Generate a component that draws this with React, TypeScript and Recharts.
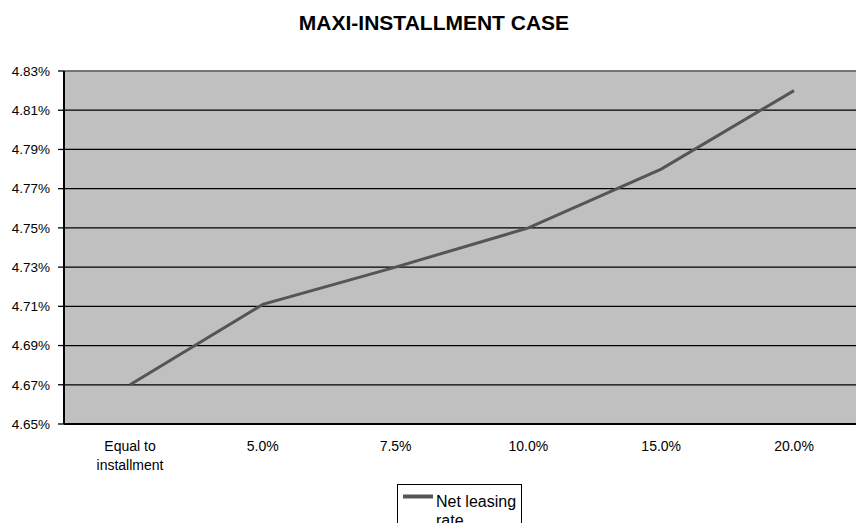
import React from "react";
import {
  LineChart,
  Line,
  XAxis,
  YAxis,
  CartesianGrid,
  ReferenceLine,
  Legend,
  Text,
} from "recharts";

// Down-payment scenarios along the horizontal axis
const categories = ["Equal to installment", "5.0%", "7.5%", "10.0%", "15.0%", "20.0%"];
// Net leasing rate (percent) for each scenario
const netLeasingRate = [4.67, 4.711, 4.73, 4.75, 4.78, 4.82];
// Value-axis ticks (percent)
const yTicks = [4.65, 4.67, 4.69, 4.71, 4.73, 4.75, 4.77, 4.79, 4.81, 4.83];

const title = "MAXI-INSTALLMENT CASE";
const seriesName = "Net leasing rate";

const data = categories.map((category, i) => ({
  category,
  rate: netLeasingRate[i],
}));

const FONT = '"Liberation Sans", Arial, sans-serif';
const LINE_COLOR = "#555555";

const CategoryTick = (props: any) => {
  const { x, y, payload } = props;
  return (
    <Text
      x={x}
      y={y + 17}
      width={100}
      textAnchor="middle"
      verticalAnchor="start"
      lineHeight={19}
      fontSize={14}
      fontFamily={FONT}
      fill="#000"
    >
      {payload.value}
    </Text>
  );
};

const LegendBox = () => (
  <div
    style={{
      boxSizing: "border-box",
      width: 125,
      height: 60,
      border: "1.5px solid #000",
      background: "#fff",
      display: "flex",
      alignItems: "flex-start",
      fontFamily: FONT,
      fontSize: 16,
      lineHeight: "19px",
      color: "#000",
    }}
  >
    <svg width={38} height={24} style={{ flex: "none" }}>
      <line x1={5} y1={11.5} x2={35} y2={11.5} stroke={LINE_COLOR} strokeWidth={4} />
    </svg>
    <span style={{ width: 82, paddingTop: 7 }}>{seriesName}</span>
  </div>
);

export default function App() {
  return (
    <div
      style={{
        position: "absolute",
        left: 0,
        top: 0,
        width: 856,
        height: 523,
        overflow: "hidden",
        background: "#fff",
      }}
    >
      <div
        style={{
          position: "absolute",
          left: 434,
          top: 11,
          transform: "translateX(-50%)",
          whiteSpace: "nowrap",
          fontFamily: FONT,
          fontWeight: "bold",
          fontSize: 21,
          lineHeight: "24px",
          color: "#000",
        }}
      >
        {title}
      </div>
      <LineChart
        width={860}
        height={523}
        data={data}
        margin={{ top: 71, right: 0, bottom: 69, left: 0 }}
        style={{ position: "absolute", left: 0, top: 0 }}
      >
        <CartesianGrid
          vertical={false}
          stroke="#000"
          strokeWidth={1.3}
          fill="#c0c0c0"
          fillOpacity={1}
        />
        <ReferenceLine y={4.83} stroke="#8a8a8a" strokeWidth={1.6} />
        <XAxis
          dataKey="category"
          height={30}
          interval={0}
          padding={{ left: 66, right: 66 }}
          axisLine={{ stroke: "#000", strokeWidth: 2 }}
          tickLine={false}
          tickSize={0}
          tickMargin={0}
          tick={<CategoryTick />}
        />
        <YAxis
          width={64}
          domain={[4.65, 4.83]}
          ticks={yTicks}
          interval={0}
          allowDataOverflow
          tickFormatter={(v: number) => v.toFixed(2) + "%"}
          axisLine={{ stroke: "#000", strokeWidth: 2 }}
          tickLine={{ stroke: "#000", strokeWidth: 1.3 }}
          tickSize={6}
          tickMargin={8}
          tick={{ fontSize: 13.5, fontFamily: FONT, fill: "#000" }}
        />
        <Legend
          layout="horizontal"
          verticalAlign="middle"
          align="center"
          content={<LegendBox />}
          wrapperStyle={{ position: "absolute", left: 397, top: 484, width: 125 }}
        />
        <Line
          type="linear"
          dataKey="rate"
          name={seriesName}
          stroke={LINE_COLOR}
          strokeWidth={3}
          dot={false}
          isAnimationActive={false}
        />
      </LineChart>
    </div>
  );
}
